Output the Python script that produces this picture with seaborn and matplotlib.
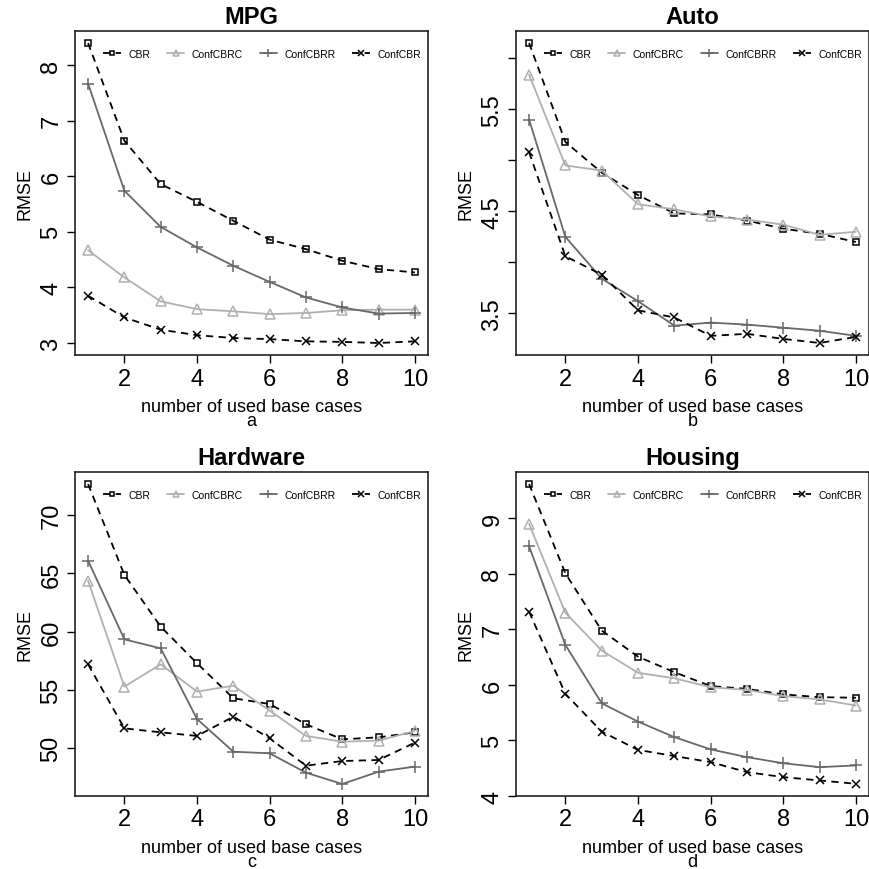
import pandas as pd
import matplotlib
matplotlib.use("Agg")
import matplotlib.pyplot as plt
import seaborn as sns

# --- Data ---
n_cases = [1, 2, 3, 4, 5, 6, 7, 8, 9, 10]
series_names = ["CBR", "ConfCBRC", "ConfCBRR", "ConfCBR"]

mpg_cbr = [8.40, 6.64, 5.86, 5.54, 5.20, 4.86, 4.69, 4.48, 4.33, 4.27]
mpg_confcbrc = [4.67, 4.18, 3.75, 3.61, 3.57, 3.52, 3.54, 3.59, 3.60, 3.60]
mpg_confcbrr = [7.67, 5.74, 5.09, 4.72, 4.39, 4.10, 3.82, 3.64, 3.53, 3.54]
mpg_confcbr = [3.85, 3.46, 3.24, 3.14, 3.09, 3.07, 3.03, 3.02, 3.00, 3.03]

auto_cbr = [6.15, 5.18, 4.88, 4.66, 4.48, 4.47, 4.41, 4.33, 4.28, 4.20]
auto_confcbrc = [5.84, 4.95, 4.90, 4.57, 4.52, 4.45, 4.42, 4.37, 4.27, 4.30]
auto_confcbrr = [5.40, 4.25, 3.84, 3.62, 3.38, 3.41, 3.39, 3.36, 3.33, 3.28]
auto_confcbr = [5.08, 4.06, 3.88, 3.53, 3.46, 3.28, 3.30, 3.25, 3.21, 3.27]

hw_cbr = [72.66, 64.86, 60.43, 57.29, 54.29, 53.80, 52.06, 50.77, 50.94, 51.37]
hw_confcbrc = [64.37, 55.29, 57.20, 54.86, 55.37, 53.23, 51.06, 50.57, 50.66, 51.49]
hw_confcbrr = [66.09, 59.34, 58.57, 52.51, 49.71, 49.57, 47.91, 46.94, 48.00, 48.43]
hw_confcbr = [57.20, 51.71, 51.37, 51.06, 52.71, 50.86, 48.51, 48.91, 49.00, 50.49]

hs_cbr = [9.62, 8.01, 6.98, 6.51, 6.23, 5.98, 5.93, 5.83, 5.78, 5.77]
hs_confcbrc = [8.90, 7.30, 6.62, 6.22, 6.12, 5.96, 5.91, 5.80, 5.74, 5.63]
hs_confcbrr = [8.50, 6.72, 5.67, 5.34, 5.06, 4.84, 4.70, 4.59, 4.52, 4.55]
hs_confcbr = [7.32, 5.84, 5.16, 4.83, 4.72, 4.61, 4.43, 4.34, 4.28, 4.22]

panels = [
    ("MPG", "a", [mpg_cbr, mpg_confcbrc, mpg_confcbrr, mpg_confcbr], [3, 4, 5, 6, 7, 8], None),
    ("Auto", "b", [auto_cbr, auto_confcbrc, auto_confcbrr, auto_confcbr],
     [3.5, 4.0, 4.5, 5.0, 5.5, 6.0], ["3.5", "", "4.5", "", "5.5", ""]),
    ("Hardware", "c", [hw_cbr, hw_confcbrc, hw_confcbrr, hw_confcbr], [50, 55, 60, 65, 70], None),
    ("Housing", "d", [hs_cbr, hs_confcbrc, hs_confcbrr, hs_confcbr], [4, 5, 6, 7, 8, 9], None),
]

# --- Styles ---
styles = {
    "CBR": dict(color="black", marker="s", ls=(0, (4, 3)), ms=5),
    "ConfCBRC": dict(color="#b0b0b0", marker="^", ls="-", ms=6.5),
    "ConfCBRR": dict(color="#686868", marker="+", ls="-", ms=9),
    "ConfCBR": dict(color="black", marker="x", ls=(0, (4, 3)), ms=5.5),
}

sns.set_theme(style="ticks")
plt.rcParams["font.family"] = ["Liberation Sans", "DejaVu Sans"]
plt.rcParams["text.color"] = "black"
plt.rcParams["axes.labelcolor"] = "black"
plt.rcParams["xtick.color"] = "black"
plt.rcParams["ytick.color"] = "black"

fig = plt.figure(figsize=(8.7, 8.7), dpi=100)
positions = [
    (75 / 870, 1 - 356 / 870, 353 / 870, 324 / 870),
    (516 / 870, 1 - 356 / 870, 353 / 870, 324 / 870),
    (75 / 870, 1 - 797 / 870, 353 / 870, 324 / 870),
    (516 / 870, 1 - 797 / 870, 353 / 870, 324 / 870),
]

for (title, letter, values, yticks, ylabels), pos in zip(panels, positions):
    ax = fig.add_axes(pos)
    for name, vals in zip(series_names, values):
        st = styles[name]
        sns.lineplot(x=n_cases, y=vals, ax=ax, color=st["color"], linestyle=st["ls"],
                     marker=st["marker"], markersize=st["ms"], markerfacecolor="none",
                     markeredgecolor=st["color"], markeredgewidth=1.1, linewidth=1.3,
                     label=name)
    ax.margins(x=0.04, y=0.04)
    ax.set_xticks([2, 4, 6, 8, 10])
    ax.set_yticks(yticks)
    if ylabels is not None:
        ax.set_yticklabels(ylabels)
    ax.tick_params(axis="both", labelsize=17, length=6, width=1, color="black",
                   labelcolor="black", direction="out", pad=3)
    for lab in ax.get_yticklabels():
        lab.set_rotation(90)
        lab.set_va("center")
    for sp in ax.spines.values():
        sp.set_visible(True)
        sp.set_color("#222222")
        sp.set_linewidth(1.2)
    ax.set_title(title, fontsize=17, fontweight="bold", pad=6, color="black")
    ax.set_ylabel("RMSE", fontsize=13, labelpad=5)
    ax.set_xlabel("number of used base cases\n" + letter, fontsize=13, labelpad=6, linespacing=0.75)
    ax.legend(loc="center", bbox_to_anchor=(0.53, 0.93), ncol=4, frameon=False,
              fontsize=7.5, handlelength=1.7, handletextpad=0.7, columnspacing=1.6,
              borderpad=0.2, markerscale=0.7)

fig.savefig("out.png", dpi=100)
